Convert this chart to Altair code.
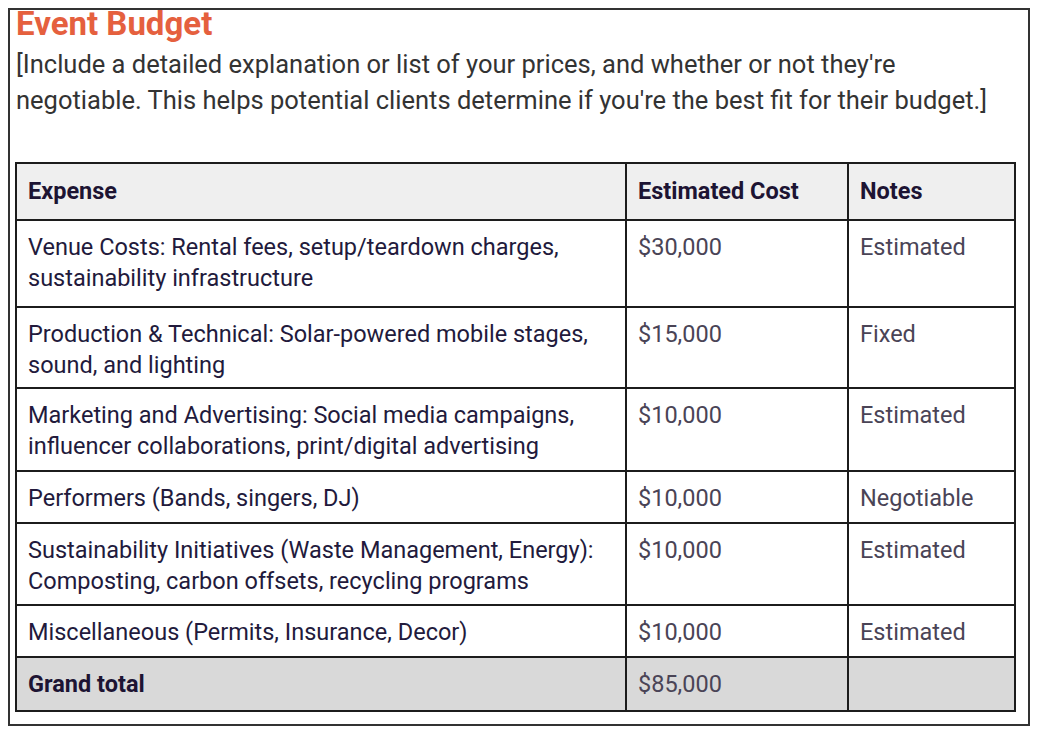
import altair as alt
import pandas as pd

# ---- data ----
headers = ["Expense", "Estimated Cost", "Notes"]
expenses = [
    "Venue Costs: Rental fees, setup/teardown charges,\nsustainability infrastructure",
    "Production & Technical: Solar-powered mobile stages,\nsound, and lighting",
    "Marketing and Advertising: Social media campaigns,\ninfluencer collaborations, print/digital advertising",
    "Performers (Bands, singers, DJ)",
    "Sustainability Initiatives (Waste Management, Energy):\nComposting, carbon offsets, recycling programs",
    "Miscellaneous (Permits, Insurance, Decor)",
]
costs = ["$30,000", "$15,000", "$10,000", "$10,000", "$10,000", "$10,000"]
notes = ["Estimated", "Fixed", "Estimated", "Negotiable", "Estimated", "Estimated"]
total_label = "Grand total"
total_cost = "$85,000"
title_text = "Event Budget"
subtitle_text = ("[Include a detailed explanation or list of your prices, and whether or not they're\n"
                 "negotiable. This helps potential clients determine if you're the best fit for their budget.]")

# ---- layout (reference pixel coordinates) ----
W, H = 1022, 718
col_edges = [16, 626, 848, 1015]
row_heights = [57, 87, 81, 83, 52, 82, 52, 54]
table_top = 163
pad_x = 12
baseline_off = {"head": 36, "body": 35, "total": 35}
line_h = 31
FS = 23.5

EXP_COLOR = "#221a3c"
VAL_COLOR = "#4a4456"
HEAD_COLOR = "#1d1433"

row_tops = [table_top]
for h in row_heights:
    row_tops.append(row_tops[-1] + h)

rows = [headers] + [[e, c, n] for e, c, n in zip(expenses, costs, notes)] + [[total_label, total_cost, ""]]
kinds = ["head"] + ["body"] * len(expenses) + ["total"]

cells, texts = [], []
for r, (vals, kind) in enumerate(zip(rows, kinds)):
    fill = {"head": "#efefef", "body": "#ffffff", "total": "#d9d9d9"}[kind]
    for c, v in enumerate(vals):
        cells.append(dict(x=col_edges[c], x2=col_edges[c + 1], y=row_tops[r], y2=row_tops[r + 1], fill=fill))
        if v:
            bold = kind == "head" or (kind == "total" and c == 0)
            color = HEAD_COLOR if bold else (EXP_COLOR if c == 0 else VAL_COLOR)
            texts.append(dict(x=col_edges[c] + pad_x, y=row_tops[r] + baseline_off[kind], t=v,
                              weight="bold" if bold else "normal", color=color))

cells_df = pd.DataFrame(cells)
texts_df = pd.DataFrame(texts)

xs = alt.Scale(domain=[8, 8 + W], range=[0, W])
ys = alt.Scale(domain=[8, 8 + H], range=[0, H])

frame = alt.Chart(pd.DataFrame([dict(x=9, x2=1029, y=9, y2=725)])).mark_rect(
    fill="white", stroke="#333333", strokeWidth=2
).encode(
    x=alt.X("x:Q", scale=xs, axis=None), x2="x2:Q",
    y=alt.Y("y:Q", scale=ys, axis=None), y2="y2:Q",
)

rects = alt.Chart(cells_df).mark_rect(stroke="#1c1c1c", strokeWidth=2).encode(
    x=alt.X("x:Q", scale=xs, axis=None), x2="x2:Q",
    y=alt.Y("y:Q", scale=ys, axis=None), y2="y2:Q",
    fill=alt.Fill("fill:N", scale=None),
)

def text_layer(weight):
    d = texts_df[texts_df.weight == weight]
    return alt.Chart(d).mark_text(
        align="left", baseline="alphabetic", font="Roboto", fontSize=FS,
        fontWeight=weight, lineBreak="\n", lineHeight=line_h,
    ).encode(
        x=alt.X("x:Q", scale=xs, axis=None),
        y=alt.Y("y:Q", scale=ys, axis=None),
        text="t:N",
        color=alt.Color("color:N", scale=None),
    )

title = alt.Chart(pd.DataFrame([dict(x=16, y=35, t=title_text)])).mark_text(
    align="left", baseline="alphabetic", font="Roboto", fontSize=33, fontWeight="bold", color="#e5603e"
).encode(x=alt.X("x:Q", scale=xs, axis=None), y=alt.Y("y:Q", scale=ys, axis=None), text="t:N")

subtitle = alt.Chart(pd.DataFrame([dict(x=16, y=73, t=subtitle_text)])).mark_text(
    align="left", baseline="alphabetic", font="Roboto", fontSize=25.5, color="#333333",
    lineBreak="\n", lineHeight=36,
).encode(x=alt.X("x:Q", scale=xs, axis=None), y=alt.Y("y:Q", scale=ys, axis=None), text="t:N")

chart = alt.layer(frame, rects, text_layer("normal"), text_layer("bold"), title, subtitle).properties(
    width=W, height=H, autosize=alt.AutoSizeParams(type="none"), padding=0,
).configure_view(stroke=None)

chart.save("out.html", embed_options={"renderer": "svg", "actions": False})
